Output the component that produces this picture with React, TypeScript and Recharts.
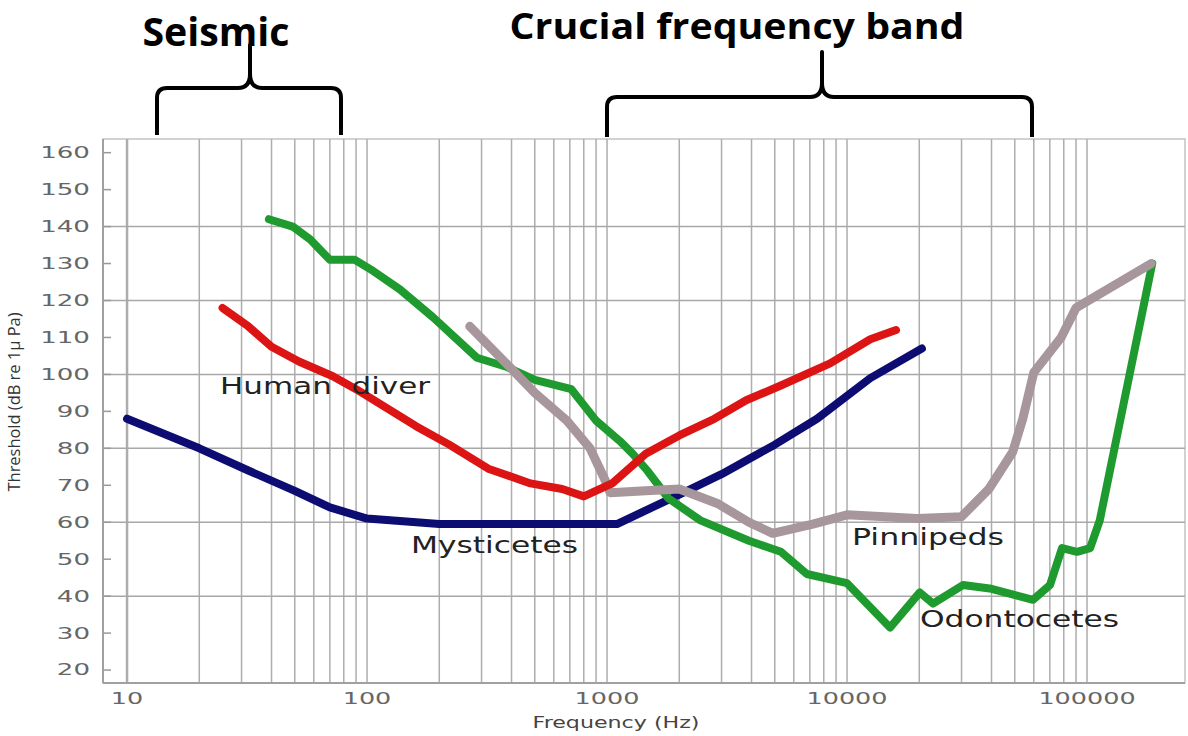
import React from 'react';
import { LineChart, Line, XAxis, YAxis, ReferenceLine, ReferenceArea } from 'recharts';

// hearing thresholds, frequency in Hz and threshold in dB re 1 µPa
const mysticetesHz = [10, 20, 32, 50, 70, 100, 200, 500, 1100, 2000, 3000, 5000, 7500, 12500, 20500];
const mysticetesDb = [88, 80, 74, 68.5, 64, 61, 59.5, 59.5, 59.5, 67.5, 73, 81, 88, 99, 107];

const diverHz = [25, 32, 40, 52, 72, 90, 120, 160, 220, 320, 480, 650, 800, 1050, 1450, 2000, 2800, 3800, 5300, 8500, 12500, 16000];
const diverDb = [118, 113, 107.5, 103.5, 99.5, 96, 91, 86, 81, 74.5, 70.5, 69, 67, 70.5, 78.5, 83.5, 88, 93, 97, 103, 109.5, 112];

const odontocetesHz = [39, 49, 58, 70, 89, 106, 137, 188, 287, 383, 500, 710, 900, 1130, 1280, 1470, 1800, 2450, 3900, 5300, 6800, 10000, 15100, 20100, 22800, 30400, 40000, 59600, 70100, 78700, 90800, 103000, 113000, 187000];
const odontocetesDb = [142, 140, 136.5, 131, 131, 128, 123, 115.5, 104.5, 102, 98.5, 96, 87.5, 82, 78.5, 74, 66.5, 60.5, 55, 52, 46, 43.5, 31.5, 41, 38, 43, 42, 39, 43, 53, 52, 53, 60.5, 130];

const pinnipedsHz = [268, 400, 500, 680, 850, 980, 1030, 1450, 2000, 2900, 3900, 4900, 7200, 10000, 19600, 30000, 39000, 49000, 54000, 60000, 78000, 90000, 185000];
const pinnipedsDb = [113, 101.5, 95, 87.5, 80, 71.5, 68, 68.5, 69, 65, 60, 57, 59.5, 62, 61, 61.5, 69, 79, 88, 100.5, 110, 118, 130];

const xTicks = [10, 100, 1000, 10000, 100000];
const yTicks = [20, 30, 40, 50, 60, 70, 80, 90, 100, 110, 120, 130, 140, 150, 160];
const yGrid = [40, 60, 80, 100, 120, 140];
const decades = [10, 100, 1000, 10000];
const steps = [1, 2, 3, 4, 5, 6, 7, 8, 9];
const xGrid = [...decades.flatMap((d) => steps.map((s) => s * d)), 100000];

const xDomain: [number, number] = [7.94, 256000];
const yDomain: [number, number] = [16.5, 163.7];

const toPoints = (hz: number[], db: number[]) => hz.map((f, i) => ({ hz: f, db: db[i] }));

const XTick = ({ x, y, payload }: any) => {
  const s = String(payload.value);
  return (
    <text x={x} y={y} dy="0.71em" textAnchor="middle" fontFamily="DejaVu Sans" fontSize={15} fill="#666"
      textLength={s.length * 16.2} lengthAdjust="spacingAndGlyphs">{s}</text>
  );
};

const YTick = ({ x, y, payload }: any) => {
  const s = String(payload.value);
  return (
    <g>
      <line x1={x + 13} x2={x + 21} y1={y} y2={y} stroke="#999" strokeWidth={1.5} />
      <text x={x} y={y} dy="0.36em" textAnchor="end" fontFamily="DejaVu Sans" fontSize={15} fill="#666"
        textLength={s.length * 16.6} lengthAdjust="spacingAndGlyphs">{s}</text>
    </g>
  );
};

const lineProps = {
  type: 'linear' as const,
  dataKey: 'db',
  dot: false,
  activeDot: false,
  isAnimationActive: false,
  strokeWidth: 8,
  strokeLinejoin: 'round' as const,
  strokeLinecap: 'round' as const,
};

const labelFont = { fontFamily: 'DejaVu Sans', fontSize: 23, fill: '#222' };

export default function App() {
  return (
    <div style={{ position: 'absolute', left: 0, top: 0, width: 1188, height: 736, background: '#fff' }}>
      <LineChart width={1188} height={736} margin={{ top: 139, right: 3, bottom: 0, left: 0 }}>
        {xGrid.map((v) => (
          <ReferenceLine key={'x' + v} x={v} stroke="#adadad" strokeWidth={v === 10 ? 2.5 : 1.5} />
        ))}
        {yGrid.map((v) => (
          <ReferenceLine key={'y' + v} y={v} stroke="#a8a8a8" strokeWidth={1.5} />
        ))}
        <ReferenceArea x1={xDomain[0]} x2={xDomain[1]} y1={yDomain[0]} y2={yDomain[1]} fill="none" fillOpacity={0}
          stroke="#c4c4c4" strokeWidth={1.5} />
        <XAxis dataKey="hz" type="number" scale="log" domain={xDomain} allowDataOverflow ticks={xTicks}
          height={53} tickSize={0} tickMargin={10} tick={<XTick />} axisLine={{ stroke: '#a0a0a0', strokeWidth: 2 }} />
        <YAxis type="number" domain={yDomain} allowDataOverflow ticks={yTicks} width={103}
          tickSize={0} tickMargin={13} tickLine={false} tick={<YTick />} axisLine={{ stroke: '#a0a0a0', strokeWidth: 2 }} />
        <Line {...lineProps} name="Mysticetes" data={toPoints(mysticetesHz, mysticetesDb)} stroke="#0c0c72" />
        <Line {...lineProps} name="Odontocetes" data={toPoints(odontocetesHz, odontocetesDb)} stroke="#1f9a2e" />
        <Line {...lineProps} name="Pinnipeds" data={toPoints(pinnipedsHz, pinnipedsDb)} stroke="#a7969b" strokeWidth={9} />
        <Line {...lineProps} name="Human diver" data={toPoints(diverHz, diverDb)} stroke="#dc1414" />
      </LineChart>

      <svg width={1188} height={736} style={{ position: 'absolute', left: 0, top: 0, pointerEvents: 'none' }}>
        {/* band titles with their braces */}
        <text x={216} y={46} textAnchor="middle" fontFamily="Open Sans" fontWeight={700} fontSize={39} fill="#000"
          textLength={147} lengthAdjust="spacingAndGlyphs">Seismic</text>
        <text x={737} y={39} textAnchor="middle" fontFamily="Open Sans" fontWeight={700} fontSize={36} fill="#000"
          textLength={455} lengthAdjust="spacingAndGlyphs">Crucial frequency band</text>
        <path d="M157,135 V98 Q157,88 167,88 H238 Q250,88 250,74 V45 V74 Q250,88 262,88 H331 Q341,88 341,98 V135"
          fill="none" stroke="#000" strokeWidth={4} strokeLinejoin="round" />
        <path d="M607,137 V107 Q607,97 617,97 H810 Q822,97 822,83 V52 V83 Q822,97 834,97 H1022 Q1032,97 1032,107 V137"
          fill="none" stroke="#000" strokeWidth={4} strokeLinejoin="round" />

        {/* series names */}
        <text x={220} y={394} {...labelFont} style={{ whiteSpace: 'pre' }} textLength={210} lengthAdjust="spacingAndGlyphs">Human  diver</text>
        <text x={411} y={553} {...labelFont} textLength={167} lengthAdjust="spacingAndGlyphs">Mysticetes</text>
        <text x={852} y={545} {...labelFont} textLength={152} lengthAdjust="spacingAndGlyphs">Pinnipeds</text>
        <text x={920} y={627} {...labelFont} textLength={199} lengthAdjust="spacingAndGlyphs">Odontocetes</text>

        {/* axis titles */}
        <text x={616} y={728} textAnchor="middle" fontFamily="DejaVu Sans" fontSize={15} fill="#444"
          textLength={167} lengthAdjust="spacingAndGlyphs">Frequency (Hz)</text>
        <text x={20} y={402} textAnchor="middle" transform="rotate(-90, 20, 402)" fontFamily="Open Sans" fontSize={16}
          fill="#333" textLength={179} lengthAdjust="spacingAndGlyphs">Threshold (dB re 1μ Pa)</text>
      </svg>
    </div>
  );
}
